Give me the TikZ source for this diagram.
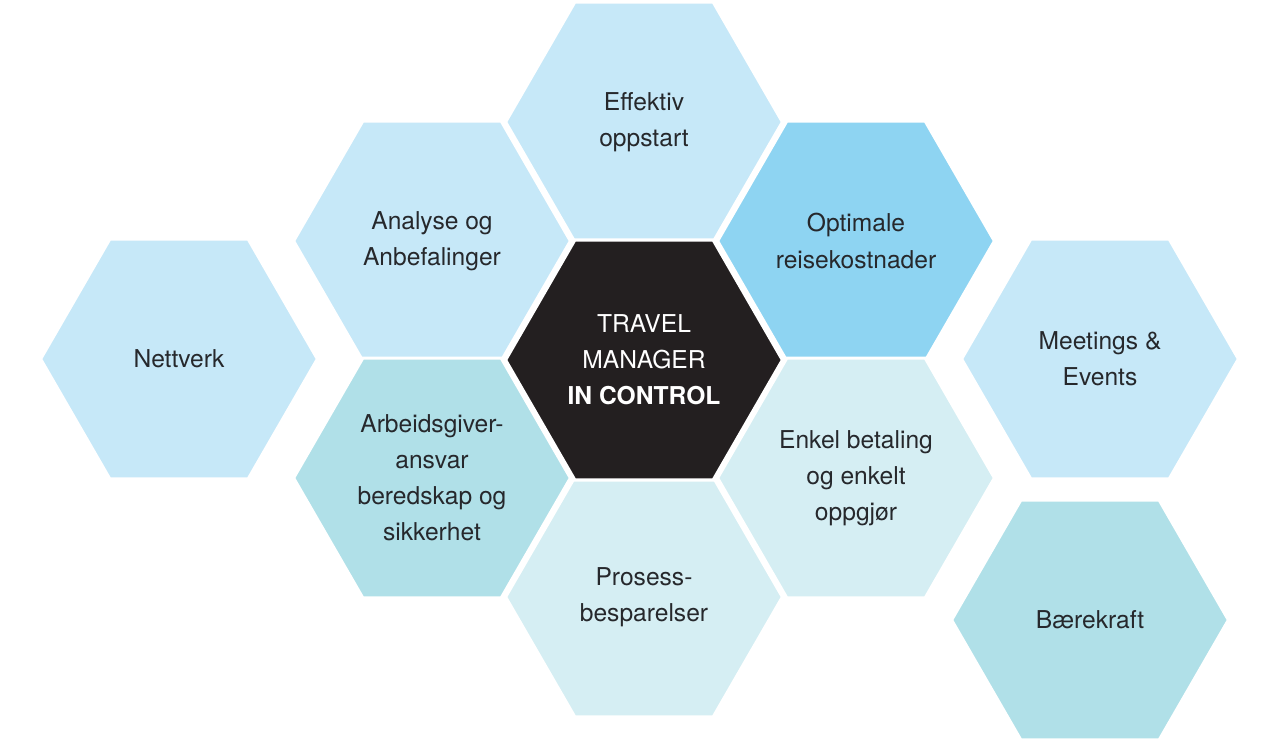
\documentclass[tikz,border=0pt]{standalone}
\usepackage{fontspec}
\setmainfont{TeX Gyre Heros}
\usepackage{tikz}
\usetikzlibrary{shapes.geometric}

\definecolor{hexpale}{RGB}{198,232,248}
\definecolor{hexblue}{RGB}{142,212,242}
\definecolor{hexteal}{RGB}{176,224,232}
\definecolor{hexmist}{RGB}{213,238,243}
\definecolor{hexdark}{RGB}{35,31,32}
\definecolor{hextext}{RGB}{38,40,44}

\begin{document}
\begin{tikzpicture}[
  x=0.02cm, y=-0.02cm,
  hexa/.style={regular polygon, regular polygon sides=6, minimum size=5.54cm,
               inner sep=0pt, draw=white, line width=1.8pt, align=center,
               text=hextext, font=\fontsize{14}{20.5}\selectfont},
  core/.style={hexa, fill=hexdark, text=white}
]
\useasboundingbox (0,0) rectangle (1280,753);

% centre and inner ring
\node[hexa, fill=hexpale] (start)   at (644,122) {Effektiv\\oppstart};
\node[hexa, fill=hexpale] (analyse) at (432,241) {Analyse og\\Anbefalinger};
\node[hexa, fill=hexblue] (cost)    at (856,241) {Optimale\\reisekostnader};
\node[hexa, fill=hexteal] (duty)    at (432,478) {Arbeidsgiver-\\ansvar\\beredskap og\\sikkerhet};
\node[hexa, fill=hexmist] (pay)     at (856,478) {Enkel betaling\\og enkelt\\oppgjør};
\node[hexa, fill=hexmist] (process) at (644,597) {Prosess-\\besparelser};
\node[core] (tm) at (644,360) {TRAVEL\\MANAGER\\\textbf{IN CONTROL}};

% outer hexagons
\node[hexa, fill=hexpale] (net)     at (179,359) {Nettverk};
\node[hexa, fill=hexpale] (events)  at (1100,359) {Meetings \&\\Events};
\node[hexa, fill=hexteal] (green)   at (1090,620) {Bærekraft};
\end{tikzpicture}
\end{document}
